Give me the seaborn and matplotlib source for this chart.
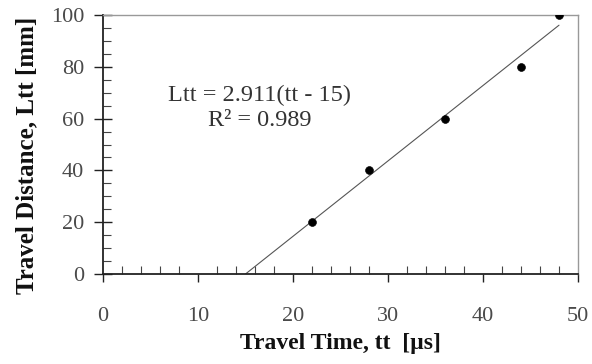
import numpy as np
import pandas as pd
import matplotlib
matplotlib.use("Agg")
import matplotlib.pyplot as plt
import seaborn as sns
from matplotlib.ticker import MultipleLocator

# Measured travel times and distances
travel_time = [22, 28, 36, 44, 48]
travel_distance = [20, 40, 60, 80, 100]

# Fitted relation Ltt = slope * (tt - offset)
slope = 2.911
offset = 15
r_squared = 0.989
fit_time = [15, 48]

sns.set_style("white")
plt.rcParams["font.family"] = ["Liberation Serif", "DejaVu Serif"]

fig = plt.figure(figsize=(5.92, 3.64), dpi=100)
ax = fig.add_axes([103 / 592, 1 - 274 / 364, 475 / 592, 259 / 364])

df = pd.DataFrame({"tt": travel_time, "Ltt": travel_distance})
fit_df = pd.DataFrame({"tt": fit_time,
                       "Ltt": [slope * (t - offset) for t in fit_time]})

sns.lineplot(data=fit_df, x="tt", y="Ltt", ax=ax, color="#555555", lw=0.8)
sns.scatterplot(data=df, x="tt", y="Ltt", ax=ax, color="black", s=32,
                edgecolor="black", zorder=3)

ax.set_xlim(0, 50)
ax.set_ylim(0, 100)
ax.xaxis.set_major_locator(MultipleLocator(10))
ax.xaxis.set_minor_locator(MultipleLocator(2))
ax.yaxis.set_major_locator(MultipleLocator(20))
ax.yaxis.set_minor_locator(MultipleLocator(5))

ax.tick_params(axis="x", which="major", direction="out", length=6, width=1,
               color="#222222", labelsize=16, labelcolor="#4a4a4a", pad=18)
ax.tick_params(axis="y", which="major", direction="inout", length=13,
               width=1, color="#222222", labelsize=16, labelcolor="#4a4a4a",
               pad=7)
ax.tick_params(which="minor", direction="in", length=6, width=0.8,
               color="#444444")
ax.tick_params(axis="x", which="both", bottom=True)
ax.tick_params(axis="y", which="both", left=True)

for side in ["left", "bottom"]:
    ax.spines[side].set_color("#222222")
    ax.spines[side].set_linewidth(1.3)
for side in ["top", "right"]:
    ax.spines[side].set_color("#999999")
    ax.spines[side].set_linewidth(1.0)

ax.set_xlabel("Travel Time, tt  [µs]", fontsize=17, fontweight="bold",
              color="#111111", va="center")
ax.set_ylabel("Travel Distance, Ltt [mm]", fontsize=18, fontweight="bold",
              color="#111111", va="center")
ax.xaxis.set_label_coords(0.5, (274 - 344) / 259)
ax.yaxis.set_label_coords((27 - 103) / 475, (274 - 155) / 259)

ax.text(16.5, 69.1, f"Ltt = {slope}(tt - {offset})", ha="center",
        va="center", fontsize=17.5, color="#333333")
ax.text(16.5, 59.1, f"R² = {r_squared}", ha="center", va="center",
        fontsize=17.5, color="#333333")

fig.savefig("out.png", dpi=100)
